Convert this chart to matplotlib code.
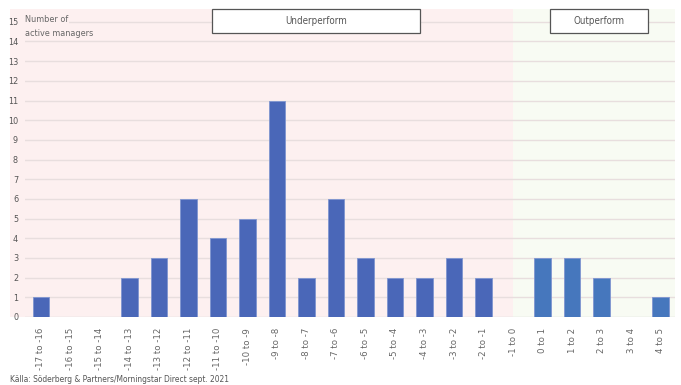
import matplotlib
matplotlib.use("Agg")
import matplotlib.pyplot as plt
from matplotlib.patches import Rectangle

categories = ["-17 to -16", "-16 to -15", "-15 to -14", "-14 to -13", "-13 to -12",
              "-12 to -11", "-11 to -10", "-10 to -9", "-9 to -8", "-8 to -7",
              "-7 to -6", "-6 to -5", "-5 to -4", "-4 to -3", "-3 to -2",
              "-2 to -1", "-1 to 0", "0 to 1", "1 to 2", "2 to 3", "3 to 4", "4 to 5"]
counts = [1, 0, 0, 2, 3, 6, 4, 5, 11, 2, 6, 3, 2, 2, 3, 2, 0, 3, 3, 2, 0, 1]
yticks = list(range(0, 16))

under_color = "#4a67b8"
out_color = "#4677bd"
pink = "#fdf0f0"
green = "#f8fbf3"
cond = dict(family="DejaVu Sans", stretch="condensed")

fig = plt.figure(figsize=(6.81, 3.85), dpi=100)
W, H = 681, 385
ax = fig.add_axes([25 / W, 1 - 317 / H, 650 / W, 308 / H])
ax.set_facecolor("none")

split = categories.index("-1 to 0")
xs = list(range(len(categories)))
colors = [under_color if i < split else out_color for i in xs]

ax.axvspan(-1.05, split, color=pink, zorder=0, clip_on=False, lw=0)
ax.axvspan(split, 21.5, color=green, zorder=0, clip_on=False, lw=0)
for v in yticks:
    ax.axhline(v, color="#e8dede" if v else "#d9d9d9", lw=1, zorder=1)

ax.bar(xs, counts, width=0.55, color=colors, edgecolor="#7f95d0", linewidth=0.6, zorder=3)

ax.set_xlim(-0.54, 21.49)
ax.set_ylim(0, 15.65)
ax.set_yticks(yticks)
ax.set_yticklabels([str(v) for v in yticks], fontsize=6.5, color="#555555", **cond)
ax.set_xticks(xs)
ax.set_xticklabels(categories, rotation=90, fontsize=6.2, color="#666666")
ax.tick_params(axis="both", length=0)
ax.tick_params(axis="y", pad=5)
ax.tick_params(axis="x", pad=8)
for s in ax.spines.values():
    s.set_visible(False)

fig.text(25 / W, 1 - 20 / H, "Number of", fontsize=6.5, color="#666666", va="center", zorder=6,
         bbox=dict(facecolor=pink, edgecolor="none", pad=0.5), **cond)
fig.text(25 / W, 1 - 33 / H, "active managers", fontsize=6.5, color="#666666", va="center", **cond)

for (x0, x1, label) in [(212, 420, "Underperform"), (550, 648, "Outperform")]:
    fig.patches.append(Rectangle((x0 / W, 1 - 33 / H), (x1 - x0) / W, 24 / H,
                                 transform=fig.transFigure, facecolor="white",
                                 edgecolor="#555555", lw=0.9, zorder=5))
    fig.text((x0 + x1) / 2 / W, 1 - 21 / H, label, fontsize=7,
             color="#555555", ha="center", va="center", zorder=6, **cond)

fig.text(10 / W, 1 - 379 / H, "Källa: Söderberg & Partners/Morningstar Direct sept. 2021",
         fontsize=6, color="#555555", va="center", **cond)

fig.savefig("out.png", dpi=100)
